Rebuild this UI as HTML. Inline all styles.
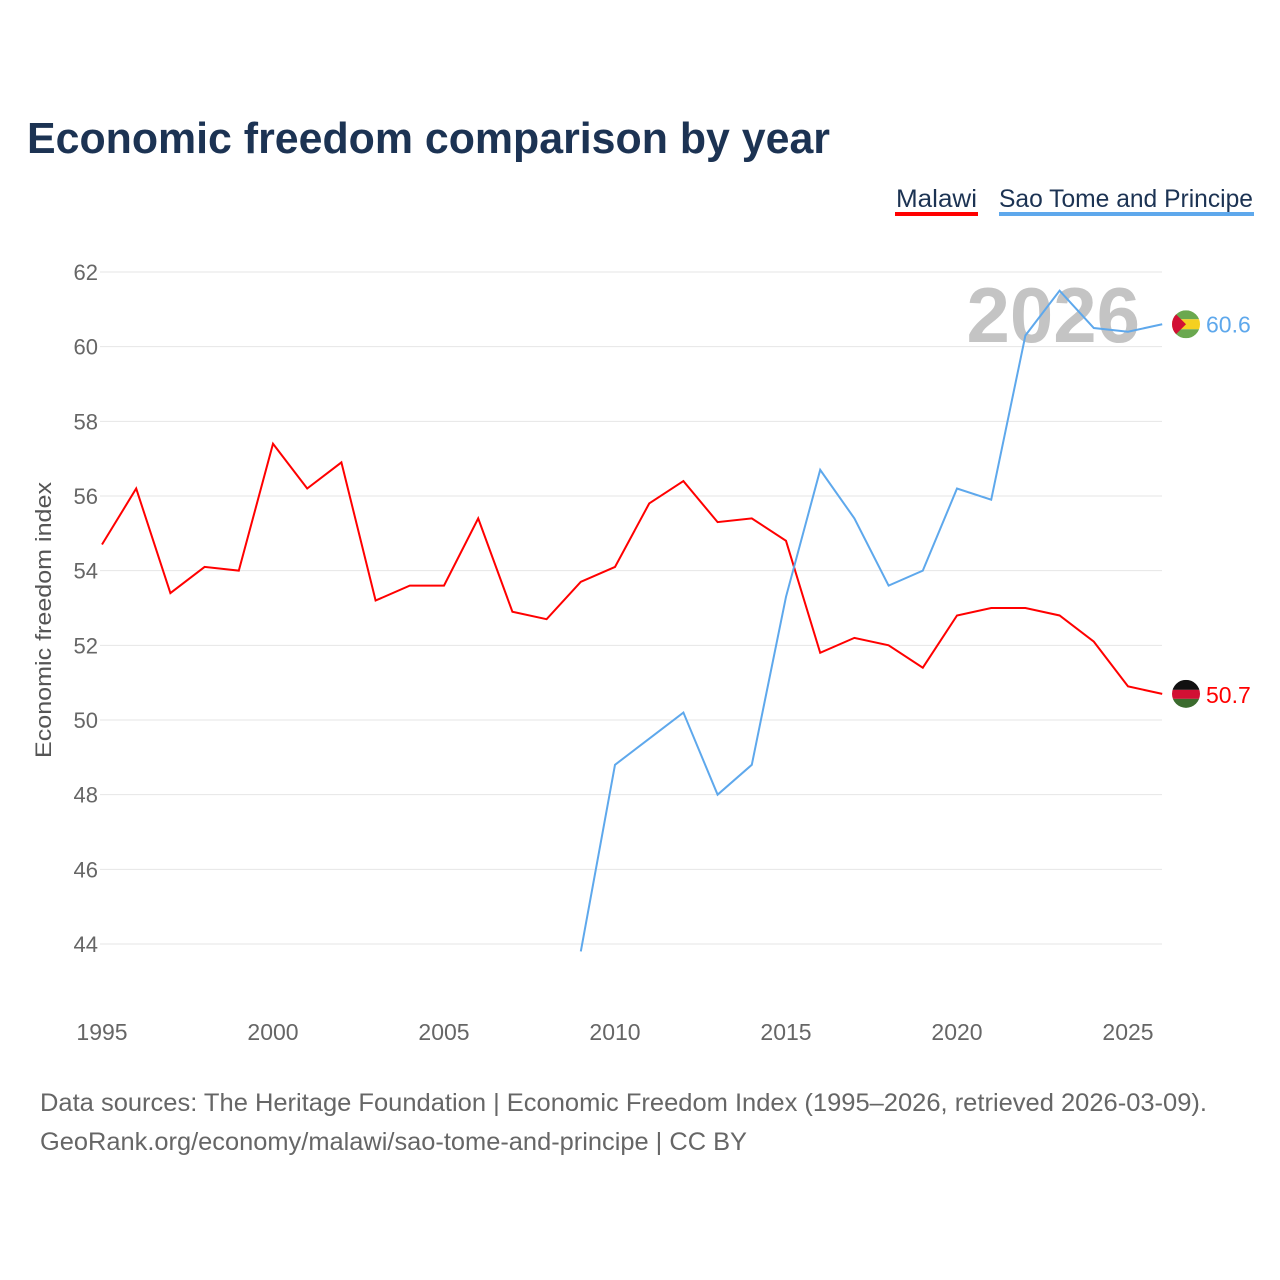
<!DOCTYPE html>
<html><head><meta charset="utf-8">
<style>
body{margin:0;background:#fff;font-family:"Liberation Sans",sans-serif;}
</style></head>
<body>
<svg id="chart" width="1280" height="1280" xmlns="http://www.w3.org/2000/svg" style="display:block">
<rect width="1280" height="1280" fill="#fff"/>
<text x="27" y="153" font-size="44" font-weight="bold" fill="#1c3353" textLength="803" lengthAdjust="spacingAndGlyphs">Economic freedom comparison by year</text>
<g>
<text x="896" y="207" font-size="25" fill="#1c3353" textLength="81" lengthAdjust="spacingAndGlyphs">Malawi</text>
<rect x="895" y="212" width="83" height="4" fill="#ff0000"/>
</g>
<g>
<text x="999" y="207" font-size="25" fill="#1c3353" textLength="254" lengthAdjust="spacingAndGlyphs">Sao Tome and Principe</text>
<rect x="999" y="212" width="255" height="4" fill="#5ea8ec"/>
</g>
<text transform="translate(51,620) rotate(-90)" text-anchor="middle" font-size="22" fill="#555" textLength="276" lengthAdjust="spacingAndGlyphs">Economic freedom index</text>
<text x="1140" y="342" text-anchor="end" font-size="78" font-weight="bold" fill="#c4c4c4">2026</text>
<g id="grid"></g>
<g id="xt"></g>
<g id="lines"></g>
<text x="40" y="1111" font-size="25" fill="#666" textLength="1167" lengthAdjust="spacingAndGlyphs">Data sources: The Heritage Foundation | Economic Freedom Index (1995–2026, retrieved 2026-03-09).</text>
<text x="40" y="1150" font-size="25" fill="#666" textLength="707" lengthAdjust="spacingAndGlyphs">GeoRank.org/economy/malawi/sao-tome-and-principe | CC BY</text>
</svg>
<script>
const years=[1995,1996,1997,1998,1999,2000,2001,2002,2003,2004,2005,2006,2007,2008,2009,2010,2011,2012,2013,2014,2015,2016,2017,2018,2019,2020,2021,2022,2023,2024,2025,2026];
const malawi=[54.7,56.2,53.4,54.1,54.0,57.4,56.2,56.9,53.2,53.6,53.6,55.4,52.9,52.7,53.7,54.1,55.8,56.4,55.3,55.4,54.8,51.8,52.2,52.0,51.4,52.8,53.0,53.0,52.8,52.1,50.9,50.7];
const stpYears=[2009,2010,2011,2012,2013,2014,2015,2016,2017,2018,2019,2020,2021,2022,2023,2024,2025,2026];
const stp=[43.8,48.8,49.5,50.2,48.0,48.8,53.3,56.7,55.4,53.6,54.0,56.2,55.9,60.3,61.5,60.5,60.4,60.6];
const yTicks=[44,46,48,50,52,54,56,58,60,62];
const xTicks=[1995,2000,2005,2010,2015,2020,2025];
const NS="http://www.w3.org/2000/svg";
const X=y=>102+(y-1995)*(1128-102)/30;
const Y=v=>944-(v-44)*(672/18);
function mk(tag,attrs,parent){const e=document.createElementNS(NS,tag);for(const k in attrs)e.setAttribute(k,attrs[k]);parent.appendChild(e);return e;}
const grid=document.getElementById('grid');
yTicks.forEach(t=>{
  const l=mk('line',{x1:100,x2:1162,y1:Y(t),y2:Y(t),stroke:'#e6e6e6','stroke-width':1},grid);
  
  
  const tx=mk('text',{x:98,y:Y(t)+8,'text-anchor':'end','font-size':22,fill:'#666'},grid);
  tx.textContent=t;
  
  
});
const xt=document.getElementById('xt');
xTicks.forEach(t=>{
  const tx=mk('text',{x:X(t),y:1040,'text-anchor':'middle','font-size':23,fill:'#666'},xt);
  tx.textContent=t;
  
  
});
const lines=document.getElementById('lines');
function series(xs,vs,color,name){
  const p=mk('polyline',{points:xs.map((y,i)=>X(y)+','+Y(vs[i])).join(' '),fill:'none',stroke:color,'stroke-width':2},lines);
  
  
  return Y(vs[vs.length-1]);
}
const ym=series(years,malawi,'#ff0000','malawi');
const ys=series(stpYears,stp,'#5ea8ec','sao-tome');
const fm=mk('g',{},lines);


const cm=mk('clipPath',{id:'cm'},fm);mk('circle',{cx:1186,cy:ym,r:14},cm);
mk('rect',{x:1172,y:ym-14,width:28,height:10,fill:'#111','clip-path':'url(#cm)'},fm);
mk('rect',{x:1172,y:ym-4,width:28,height:9,fill:'#d21034','clip-path':'url(#cm)'},fm);
mk('rect',{x:1172,y:ym+5,width:28,height:10,fill:'#3b6b2e','clip-path':'url(#cm)'},fm);
const tm=mk('text',{x:1206,y:ym+9,'font-size':23,fill:'#ff0000'},lines);
tm.textContent=malawi[malawi.length-1].toFixed(1);


const fs=mk('g',{},lines);


const cp=mk('clipPath',{id:'cs'},fs);mk('circle',{cx:1186,cy:ys,r:14},cp);
mk('rect',{x:1172,y:ys-14,width:28,height:9,fill:'#6aa84f','clip-path':'url(#cs)'},fs);
mk('rect',{x:1172,y:ys-5,width:28,height:10,fill:'#f5d020','clip-path':'url(#cs)'},fs);
mk('rect',{x:1172,y:ys+5,width:28,height:9,fill:'#6aa84f','clip-path':'url(#cs)'},fs);
mk('polygon',{points:`1172,${ys-14} 1186,${ys} 1172,${ys+14}`,fill:'#d21034','clip-path':'url(#cs)'},fs);
const ts=mk('text',{x:1206,y:ys+8,'font-size':23,fill:'#5ea8ec'},lines);
ts.textContent=stp[stp.length-1].toFixed(1);


</script>
</body></html>
